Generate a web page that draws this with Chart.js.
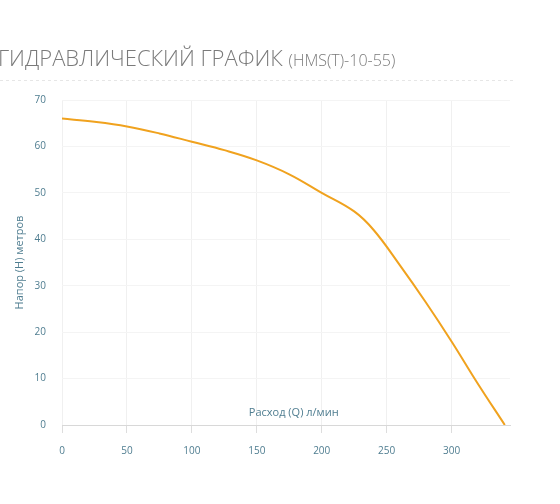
<!DOCTYPE html>
<html><head><meta charset="utf-8">
<script src="https://cdn.jsdelivr.net/npm/chart.js@4"></script>
<style>html,body{margin:0;padding:0;background:#fff}#w{width:560px;height:504px;position:relative}</style>
</head><body><div id="w"><canvas id="c"></canvas></div>
<script>
const flow = [0, 25, 50, 75, 100, 125, 150, 175, 200, 225, 240, 260, 280, 300, 320, 341];
const head = [66, 65.3, 64.3, 62.8, 61, 59.2, 57, 54, 50, 46, 42, 34.5, 26.5, 18, 9, 0];
const xTicks = [0, 50, 100, 150, 200, 250, 300];
const titleMain = 'ГИДРАВЛИЧЕСКИЙ ГРАФИК';
const titleSub = '(HMS(T)-10-55)';
const xLabel = 'Расход (Q) л/мин';
const yLabel = 'Напор (H) метров';
const tickColor = '#4f7d90';

const deco = {
  id: 'deco',
  afterDraw(ch) {
    const c = ch.ctx, x = ch.scales.x, y = ch.scales.y;
    c.save();
    c.fillStyle = '#7a7a7a';
    c.textBaseline = 'alphabetic';
    c.font = '300 22px "Open Sans"';
    c.fillText(titleMain, -2, 66);
    const w = c.measureText(titleMain + ' ').width;
    c.font = '300 16px "Open Sans"';
    c.fillText(titleSub, w - 2, 66);
    c.strokeStyle = '#e6e6e6';
    c.setLineDash([3, 3]);
    c.lineWidth = 1;
    c.beginPath(); c.moveTo(0, 80.5); c.lineTo(515, 80.5); c.stroke();
    c.setLineDash([]);
    c.fillStyle = tickColor;
    c.font = '11px "Open Sans"';
    c.textAlign = 'center';
    c.fillText(xLabel, x.getPixelForValue(200) - 28, y.getPixelForValue(0) - 9);
    c.translate(23, y.getPixelForValue(35));
    c.rotate(-Math.PI / 2);
    c.fillText(yLabel, 0, 0);
    c.restore();
  }
};

new Chart(document.getElementById('c'), {
  type: 'line',
  data: { datasets: [{ data: flow.map((v, i) => ({ x: v, y: head[i] })), borderColor: '#f0a21e', borderWidth: 2, pointRadius: 0, tension: 0.4, fill: false }] },
  options: {
    responsive: true, maintainAspectRatio: false, animation: false,
    layout: { padding: { top: 100, right: 50, left: 0, bottom: 0 } },
    plugins: { legend: { display: false }, tooltip: { enabled: false } },
    scales: {
      x: { type: 'linear', min: 0, max: 345,
        afterBuildTicks: s => { s.ticks = xTicks.map(v => ({ value: v })); },
        afterFit: s => { s.height = 79; },
        grid: { color: '#f0f0f0', drawTicks: true, tickLength: 8, tickColor: '#ddd' },
        border: { color: '#d8d8d8' },
        ticks: { color: tickColor, font: { family: 'Open Sans', size: 10 }, padding: 12, maxRotation: 0 } },
      y: { min: 0, max: 70,
        afterFit: s => { s.width = 62; },
        grid: { color: '#f4f4f4', drawTicks: false },
        border: { display: false },
        ticks: { stepSize: 10, color: tickColor, font: { family: 'Open Sans', size: 10 }, padding: 16 } }
    }
  },
  plugins: [deco]
});
</script></body></html>
